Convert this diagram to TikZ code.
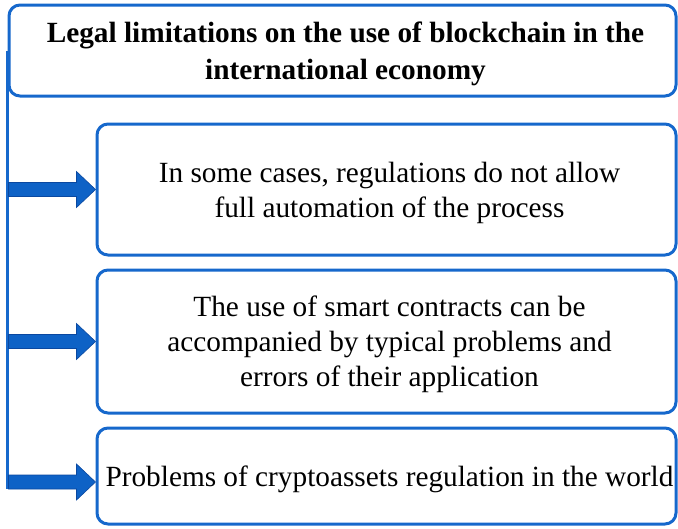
\documentclass[tikz,border=0pt]{standalone}
\usepackage{fontspec}
\setmainfont{Liberation Serif}
\usetikzlibrary{calc}
\definecolor{frameblue}{RGB}{22,104,204}
\definecolor{arrowblue}{RGB}{14,98,198}
\definecolor{arrowedge}{RGB}{10,72,160}
\tikzset{
  x=1pt, y=-1pt,
  box/.style={draw=frameblue, line width=3pt, rounded corners=11pt, fill=white,
    align=center, inner sep=0pt, text depth=0pt, font=\fontsize{29.3}{35}\selectfont},
  trunkline/.style={draw=frameblue, line width=3pt},
  feed/.style={fill=arrowblue, draw=arrowedge, line width=0.6pt},
}
% small lead-in so each centred line sits a little right of the box centre
\newcommand\lead{\hspace*{6pt}}
% block arrow ending with its tip at the given point
\newcommand\feedarrow[1]{\filldraw[feed] (#1) -- ++(-19,-18) -- ++(0,11) -- ++(-68,0)
  -- ++(0,14) -- ++(68,0) -- ++(0,11) -- cycle;}
\begin{document}
\begin{tikzpicture}
\useasboundingbox (0,0) rectangle (678,528);

\node[box, minimum width=667pt, minimum height=91pt, font=\fontsize{29.3}{37}\selectfont\bfseries]
  (top) at (342.5,50.5) {\lead Legal limitations on the use of blockchain in the\\ \lead international economy};

\node[box, minimum width=579pt, minimum height=131pt] (b1) at (386.5,189.5)
  {\lead In some cases, regulations do not allow\\ \lead full automation of the process};
\node[box, minimum width=579pt, minimum height=143pt] (b2) at (386.5,341.5)
  {\lead The use of smart contracts can be\\ \lead accompanied by typical problems and\\ \lead errors of their application};
\node[box, minimum width=579pt, minimum height=96pt] (b3) at (386.5,476)
  {\lead Problems of cryptoassets regulation in the world};

\coordinate (t3) at ($(b3.west)+(0,6)$);
\coordinate (trunkend) at ($(t3)+(-87,7)$);

\draw[trunkline] (top.west) -- (top.west |- trunkend);

\feedarrow{b1.west}
\feedarrow{b2.west}
\feedarrow{t3}
\end{tikzpicture}
\end{document}
